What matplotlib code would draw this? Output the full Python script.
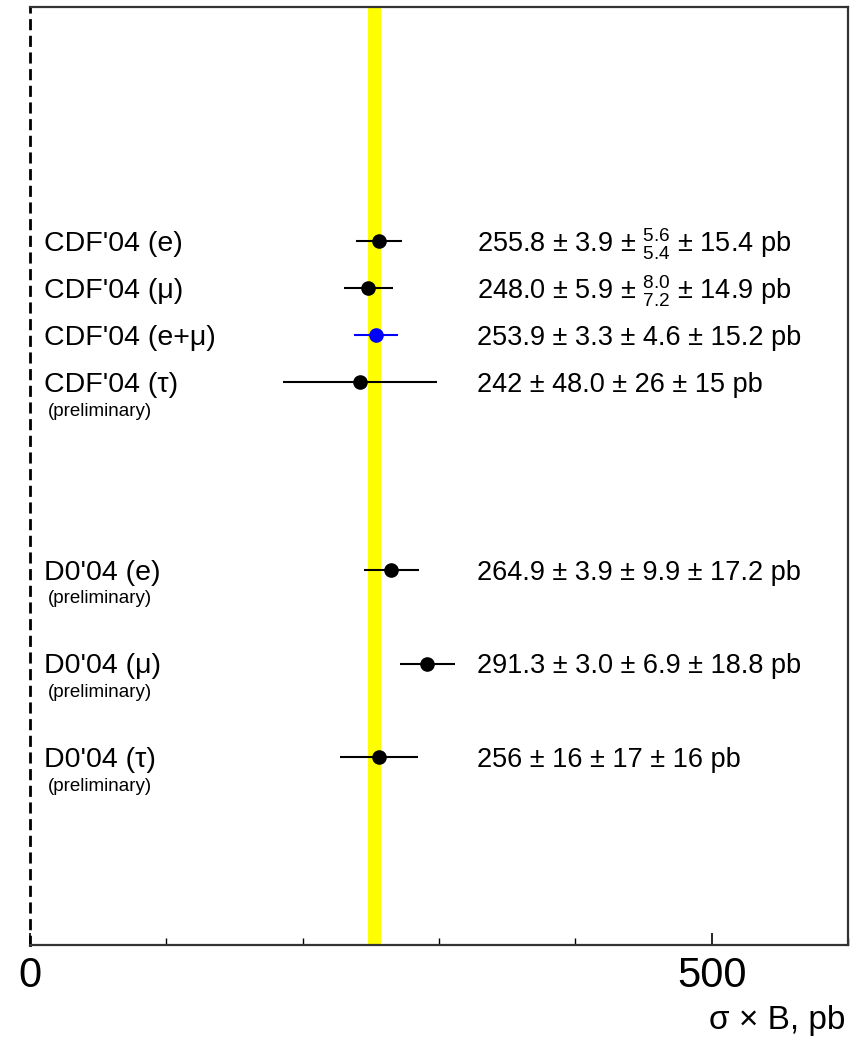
import matplotlib
matplotlib.use("Agg")
import matplotlib.pyplot as plt
from matplotlib.ticker import MultipleLocator, FixedLocator
import numpy as np

plt.rcParams['font.family'] = ['Liberation Sans', 'DejaVu Sans']
plt.rcParams['mathtext.fontset'] = 'custom'
plt.rcParams['mathtext.rm'] = 'Liberation Sans'
plt.rcParams['mathtext.it'] = 'Liberation Sans'

# Measurements of sigma x B (pb)
labels = ["CDF'04 (e)", "CDF'04 (μ)", "CDF'04 (e+μ)", "CDF'04 (τ)",
          "D0'04 (e)", "D0'04 (μ)", "D0'04 (τ)"]
preliminary = [False, False, False, True, True, True, True]
central = [255.8, 248.0, 253.9, 242.0, 264.9, 291.3, 256.0]
stat = [3.9, 5.9, 3.3, 48.0, 3.9, 3.0, 16.0]
syst_up = [5.6, 8.0, 4.6, 26.0, 9.9, 6.9, 17.0]
syst_dn = [5.4, 7.2, 4.6, 26.0, 9.9, 6.9, 17.0]
lumi = [15.4, 14.9, 15.2, 15.0, 17.2, 18.8, 16.0]
value_text = [
    r"255.8 ± 3.9 ± ${}^{5.6}_{5.4}$ ± 15.4 pb",
    r"248.0 ± 5.9 ± ${}^{8.0}_{7.2}$ ± 14.9 pb",
    "253.9 ± 3.3 ± 4.6 ± 15.2 pb",
    "242 ± 48.0 ± 26 ± 15 pb",
    "264.9 ± 3.9 ± 9.9 ± 17.2 pb",
    "291.3 ± 3.0 ± 6.9 ± 18.8 pb",
    "256 ± 16 ± 17 ± 16 pb",
]
colors = ["black", "black", "blue", "black", "black", "black", "black"]
rows = [15, 14, 13, 12, 8, 6, 4]

# Combined average band (pb)
band_lo, band_hi = 247.8, 257.6

fig = plt.figure(figsize=(8.61, 10.40), dpi=100)
ax = fig.add_axes([30 / 861, 95 / 1040, 818 / 861, 938 / 1040])
ax.set_xlim(0, 600)
ax.set_ylim(0, 20)

ax.axvspan(band_lo, band_hi, color="#ffff00", zorder=1, lw=0)

text_dy = -0.06
for i in range(len(central)):
    err_lo = np.sqrt(stat[i] ** 2 + syst_dn[i] ** 2 + lumi[i] ** 2)
    err_hi = np.sqrt(stat[i] ** 2 + syst_up[i] ** 2 + lumi[i] ** 2)
    ax.errorbar([central[i]], [rows[i]], xerr=[[err_lo], [err_hi]],
                fmt="o", color=colors[i], ms=9.5, elinewidth=1.5,
                capsize=0, zorder=3)
    ax.text(10.3, rows[i] + text_dy, labels[i], fontsize=20.5,
            ha="left", va="center")
    if preliminary[i]:
        ax.text(13, rows[i] - 0.62, "(preliminary)", fontsize=13.5,
                ha="left", va="center")
    ax.text(328, rows[i] + text_dy, value_text[i], fontsize=19.5,
            ha="left", va="center")

ax.set_yticks([])
ax.xaxis.set_major_locator(FixedLocator([0, 500]))
ax.xaxis.set_minor_locator(MultipleLocator(100))
ax.tick_params(axis="x", which="major", direction="in", length=9,
               width=1.2, labelsize=30, pad=8)
ax.tick_params(axis="x", which="minor", direction="in", length=5,
               width=1.0)

for side in ["top", "right", "bottom"]:
    ax.spines[side].set_linewidth(1.6)
    ax.spines[side].set_color("#333333")
ax.spines["left"].set_linewidth(2.0)
ax.spines["left"].set_color("black")
ax.spines["left"].set_linestyle((0, (3, 3)))

fig.text(845 / 861, 1 - 1021 / 1040, "σ × B, pb", fontsize=24,
         ha="right", va="center")

fig.savefig("out.png", dpi=100)
